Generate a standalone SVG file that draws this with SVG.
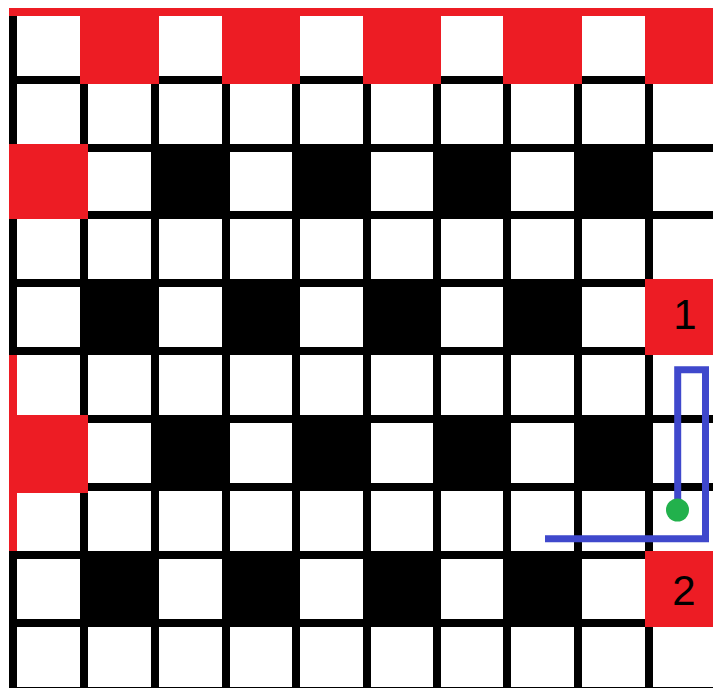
<svg xmlns="http://www.w3.org/2000/svg" width="713" height="688" viewBox="0 0 713 688">
<style>
.w{fill:#ffffff}
.k{fill:#000000}
.r{fill:#ed1c24}
.lbl{font-family:"Liberation Sans",Arial,sans-serif;font-size:42px;fill:#000;text-anchor:middle}
</style>
<rect x="0" y="0" width="713" height="688" fill="#ffffff"/>
<g id="grid">
<rect x="9" y="8" width="704" height="680" class="k"/>
<g class="w">
<rect x="17" y="16" width="63" height="60"/><rect x="88" y="16" width="63" height="60"/><rect x="159" y="16" width="63" height="60"/><rect x="230" y="16" width="62" height="60"/><rect x="300" y="16" width="63" height="60"/><rect x="371" y="16" width="62" height="60"/><rect x="441" y="16" width="62" height="60"/><rect x="511" y="16" width="63" height="60"/><rect x="582" y="16" width="63" height="60"/><rect x="653" y="16" width="60" height="60"/>
<rect x="17" y="84" width="63" height="60"/><rect x="88" y="84" width="63" height="60"/><rect x="159" y="84" width="63" height="60"/><rect x="230" y="84" width="62" height="60"/><rect x="300" y="84" width="63" height="60"/><rect x="371" y="84" width="62" height="60"/><rect x="441" y="84" width="62" height="60"/><rect x="511" y="84" width="63" height="60"/><rect x="582" y="84" width="63" height="60"/><rect x="653" y="84" width="60" height="60"/>
<rect x="17" y="152" width="63" height="59"/><rect x="88" y="152" width="63" height="59"/><rect x="159" y="152" width="63" height="59"/><rect x="230" y="152" width="62" height="59"/><rect x="300" y="152" width="63" height="59"/><rect x="371" y="152" width="62" height="59"/><rect x="441" y="152" width="62" height="59"/><rect x="511" y="152" width="63" height="59"/><rect x="582" y="152" width="63" height="59"/><rect x="653" y="152" width="60" height="59"/>
<rect x="17" y="219" width="63" height="60"/><rect x="88" y="219" width="63" height="60"/><rect x="159" y="219" width="63" height="60"/><rect x="230" y="219" width="62" height="60"/><rect x="300" y="219" width="63" height="60"/><rect x="371" y="219" width="62" height="60"/><rect x="441" y="219" width="62" height="60"/><rect x="511" y="219" width="63" height="60"/><rect x="582" y="219" width="63" height="60"/><rect x="653" y="219" width="60" height="60"/>
<rect x="17" y="287" width="63" height="60"/><rect x="88" y="287" width="63" height="60"/><rect x="159" y="287" width="63" height="60"/><rect x="230" y="287" width="62" height="60"/><rect x="300" y="287" width="63" height="60"/><rect x="371" y="287" width="62" height="60"/><rect x="441" y="287" width="62" height="60"/><rect x="511" y="287" width="63" height="60"/><rect x="582" y="287" width="63" height="60"/><rect x="653" y="287" width="60" height="60"/>
<rect x="17" y="355" width="63" height="60"/><rect x="88" y="355" width="63" height="60"/><rect x="159" y="355" width="63" height="60"/><rect x="230" y="355" width="62" height="60"/><rect x="300" y="355" width="63" height="60"/><rect x="371" y="355" width="62" height="60"/><rect x="441" y="355" width="62" height="60"/><rect x="511" y="355" width="63" height="60"/><rect x="582" y="355" width="63" height="60"/><rect x="653" y="355" width="60" height="60"/>
<rect x="17" y="423" width="63" height="60"/><rect x="88" y="423" width="63" height="60"/><rect x="159" y="423" width="63" height="60"/><rect x="230" y="423" width="62" height="60"/><rect x="300" y="423" width="63" height="60"/><rect x="371" y="423" width="62" height="60"/><rect x="441" y="423" width="62" height="60"/><rect x="511" y="423" width="63" height="60"/><rect x="582" y="423" width="63" height="60"/><rect x="653" y="423" width="60" height="60"/>
<rect x="17" y="491" width="63" height="60"/><rect x="88" y="491" width="63" height="60"/><rect x="159" y="491" width="63" height="60"/><rect x="230" y="491" width="62" height="60"/><rect x="300" y="491" width="63" height="60"/><rect x="371" y="491" width="62" height="60"/><rect x="441" y="491" width="62" height="60"/><rect x="511" y="491" width="63" height="60"/><rect x="582" y="491" width="63" height="60"/><rect x="653" y="491" width="60" height="60"/>
<rect x="17" y="559" width="63" height="60"/><rect x="88" y="559" width="63" height="60"/><rect x="159" y="559" width="63" height="60"/><rect x="230" y="559" width="62" height="60"/><rect x="300" y="559" width="63" height="60"/><rect x="371" y="559" width="62" height="60"/><rect x="441" y="559" width="62" height="60"/><rect x="511" y="559" width="63" height="60"/><rect x="582" y="559" width="63" height="60"/><rect x="653" y="559" width="60" height="60"/>
<rect x="17" y="627" width="63" height="60"/><rect x="88" y="627" width="63" height="60"/><rect x="159" y="627" width="63" height="60"/><rect x="230" y="627" width="62" height="60"/><rect x="300" y="627" width="63" height="60"/><rect x="371" y="627" width="62" height="60"/><rect x="441" y="627" width="62" height="60"/><rect x="511" y="627" width="63" height="60"/><rect x="582" y="627" width="63" height="60"/><rect x="653" y="627" width="60" height="60"/>
</g>
</g>
<g id="black-cells" class="k">
<rect x="151" y="144" width="79" height="75"/><rect x="292" y="144" width="79" height="75"/><rect x="433" y="144" width="78" height="75"/><rect x="574" y="144" width="79" height="75"/>
<rect x="80" y="279" width="79" height="76"/><rect x="222" y="279" width="78" height="76"/><rect x="363" y="279" width="78" height="76"/><rect x="503" y="279" width="79" height="76"/>
<rect x="151" y="415" width="79" height="76"/><rect x="292" y="415" width="79" height="76"/><rect x="433" y="415" width="78" height="76"/><rect x="574" y="415" width="79" height="76"/>
<rect x="80" y="551" width="79" height="76"/><rect x="222" y="551" width="78" height="76"/><rect x="363" y="551" width="78" height="76"/><rect x="503" y="551" width="79" height="76"/>
</g>
<g id="red-cells" class="r">
<rect x="9" y="8" width="704" height="8"/>
<rect x="80" y="8" width="79" height="76"/><rect x="222" y="8" width="78" height="76"/><rect x="363" y="8" width="78" height="76"/><rect x="503" y="8" width="79" height="76"/><rect x="645" y="8" width="68" height="76"/>
<rect x="9" y="144" width="79" height="75"/>
<rect x="9" y="355" width="8" height="196"/>
<rect x="9" y="415" width="79" height="78"/>
</g>
<g id="node1">
<rect x="645" y="279" width="68" height="76" class="r"/>
<text x="685" y="329" class="lbl">1</text>
</g>
<g id="node2">
<rect x="645" y="551" width="68" height="76" class="r"/>
<text x="684" y="605" class="lbl">2</text>
</g>
<g id="connectors">
<path d="M677.7 506 V369.7 H705.5 V538.7 H545" fill="none" stroke="#3f48cc" stroke-width="7"/>
</g>
<g id="start">
<circle cx="677.5" cy="510" r="11.5" fill="#22b14c"/>
</g>
</svg>
